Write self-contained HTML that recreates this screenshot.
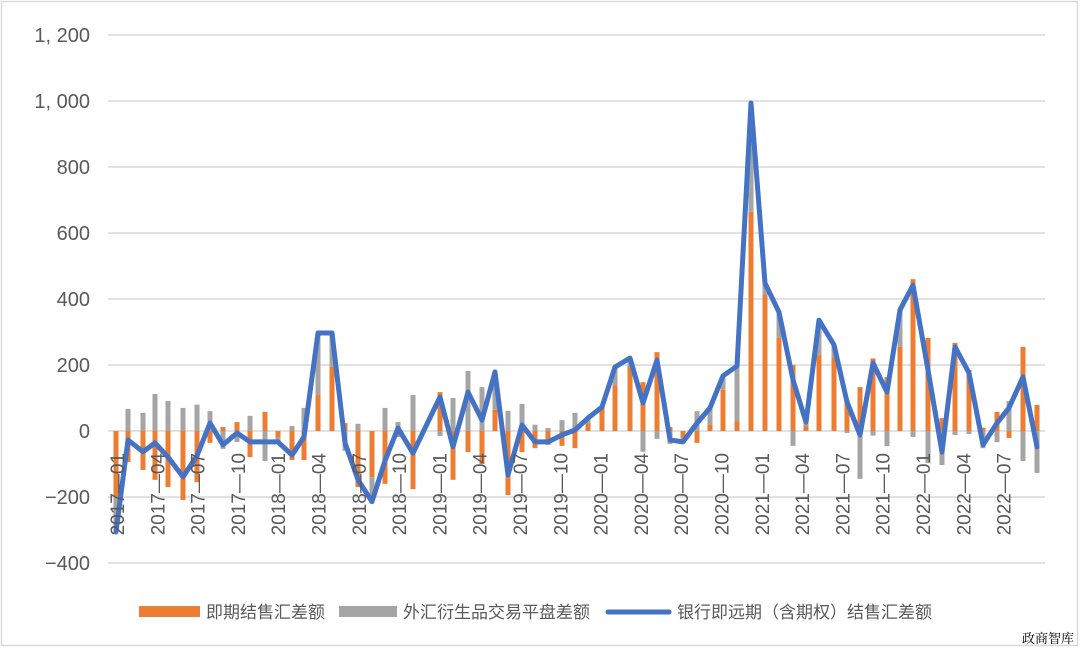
<!DOCTYPE html>
<html><head><meta charset="utf-8"><style>
html,body{margin:0;padding:0;background:#fff;}
body{width:1080px;height:651px;overflow:hidden;position:relative;font-family:"Liberation Sans","Noto Sans CJK SC",sans-serif;}
</style></head><body>
<svg id="c" width="1080" height="651" xmlns="http://www.w3.org/2000/svg" style="position:absolute;left:0;top:0">
<rect x="1.5" y="1.5" width="1076" height="644" fill="#fff" stroke="#d9d9d9" stroke-width="1.5"/>
</svg>
<script>
const svg=document.getElementById('c');const NS='http://www.w3.org/2000/svg';
function el(t,a,txt){const e=document.createElementNS(NS,t);for(const k in a)e.setAttribute(k,a[k]);if(txt!==undefined)e.textContent=txt;svg.appendChild(e);return e;}
const Y=v=>431-v*0.33;
const ylab=[[1200,'1, 200'],[1000,'1, 000'],[800,'800'],[600,'600'],[400,'400'],[200,'200'],[0,'0'],[-200,'−200'],[-400,'−400']];
ylab.forEach(([v,t])=>{el('line',{x1:108,x2:1045,y1:Y(v),y2:Y(v),stroke:'#d9d9d9','stroke-width':1.5});
el('text',{x:90,y:Y(v)+7,'text-anchor':'end','font-size':20,fill:'#595959'},t);});
const xs=[116,128,143,155,168,183,197,210,223,237,250,265,278,292,304,318,332,345,358,372,385,398,413,440-13.5,440,453,468,482,495,508,522,535,548,562,575,588,602,615,630,643,657,670,683,697,710,723,737,751,765,779,793,806,819,834,847,860,873,887,900,913,928,942,955,969,983,997,1009,1023,1037];
// fix index: 22 at 413, 23 at 440 -> remove placeholder
xs.splice(23,1);
const o=[-200,-94,-118,-148,-170,-209,-155,-36,12,27,-79,58,-20,-88,-88,109,194,24,-170,-140,-160,-18,-176,118,-148,-64,-100,64,-194,-64,-52,-42,-45,-52,24,70,139,194,148,239,12,-20,-36,20,125,30,664,412,282,200,15,230,224,94,133,220,164,255,460,282,39,267,185,10,58,-21,255,79];
const L=[-306,-27,-63,-36,-79,-139,-75,24,-42,-6,-33,-33,-33,-73,-18,297,297,-36,-148,-214,-90,9,-67,103,-48,118,33,179,-133,18,-33,-33,-12,3,39,73,194,221,85,215,-27,-33,24,70,167,197,994,448,360,155,27,336,261,88,-12,206,118,367,442,185,-64,255,176,-42,24,70,164,-48];
const n=L.length;
for(let i=0;i<n;i++){const x=xs[i],ov=o[i],gv=L[i]-ov,w=5;
 // orange from 0
 el('rect',{x:x-w/2,y:Math.min(Y(0),Y(ov)),width:w,height:Math.abs(ov*0.33),fill:'#ed7d31'});
 // gray stacked: same sign -> beyond orange, otherwise from 0
 let base=(Math.sign(gv)===Math.sign(ov))?ov:0;
 el('rect',{x:x-w/2,y:Math.min(Y(base),Y(base+gv)),width:w,height:Math.abs(gv*0.33),fill:'#a5a5a5'});
}
el('polyline',{points:L.map((v,i)=>xs[i]+','+Y(v)).join(' '),fill:'none',stroke:'#4472c4','stroke-width':5,'stroke-linejoin':'round','stroke-linecap':'round'});
const labs=['2017—01','2017—04','2017—07','2017—10','2018—01','2018—04','2018—07','2018—10','2019—01','2019—04','2019—07','2019—10','2020—01','2020—04','2020—07','2020—10','2021—01','2021—04','2021—07','2021—10','2022—01','2022—04','2022—07'];
labs.forEach((t,k)=>{const x=118+k*40.3+6;el('text',{x:0,y:0,transform:`translate(${x},453) rotate(-90)`,'text-anchor':'end','font-size':19,fill:'#595959'},t);});
el('rect',{x:139,y:606,width:61,height:11,fill:'#ed7d31'});
el('text',{x:206,y:618,'font-size':17,fill:'#595959'},'即期结售汇差额');
el('rect',{x:339,y:606,width:58,height:11,fill:'#a5a5a5'});
el('text',{x:403,y:618,'font-size':17,fill:'#595959'},'外汇衍生品交易平盘差额');
el('line',{x1:608,x2:669,y1:612,y2:612,stroke:'#4472c4','stroke-width':5,'stroke-linecap':'round'});
el('text',{x:677,y:618,'font-size':17,fill:'#595959'},'银行即远期（含期权）结售汇差额');
el('text',{x:1022,y:643,'font-size':13,fill:'#000','font-family':'"Noto Serif CJK SC",serif'},'政商智库');
</script>
</body></html>
